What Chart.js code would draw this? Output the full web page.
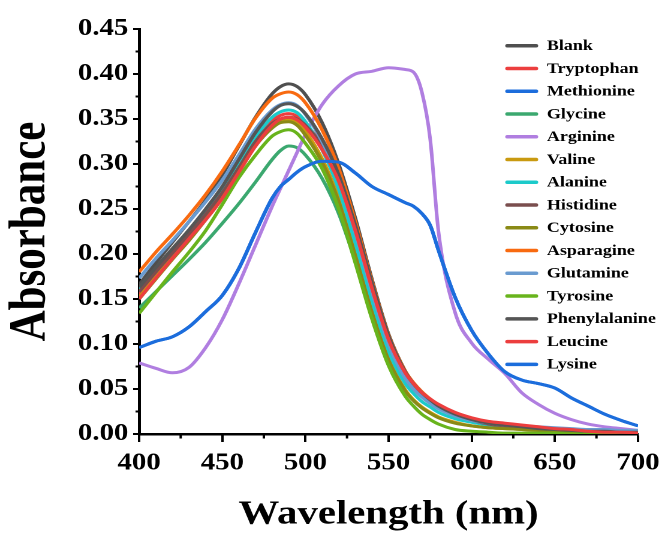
<!DOCTYPE html>
<html>
<head>
<meta charset="utf-8">
<script src="https://cdn.jsdelivr.net/npm/chart.js@4/dist/chart.umd.min.js"></script>
<style>
  html, body { margin: 0; padding: 0; background: #fff; overflow: hidden; }
  #wrap { width: 557px; height: 535px; transform: scaleX(1.1993); transform-origin: 0 0; }
</style>
</head>
<body>
<div id="wrap"><canvas id="c" width="557" height="535"></canvas></div>
<script>
// Wavelength grid (nm) shared by every spectrum
const wavelength = [400,410,420,430,440,450,460,470,480,485,490,495,500,510,520,530,540,550,560,565,570,575,580,590,600,610,620,630,640,650,660,670,680,690,700];

// Absorbance spectra
const blank         = [0.166,0.190,0.213,0.236,0.260,0.288,0.320,0.352,0.378,0.386,0.389,0.386,0.377,0.346,0.300,0.240,0.172,0.111,0.070,0.056,0.046,0.038,0.031,0.022,0.016,0.012,0.010,0.008,0.006,0.005,0.004,0.003,0.003,0.002,0.002];
const tryptophan    = [0.155,0.178,0.200,0.222,0.243,0.266,0.296,0.326,0.348,0.354,0.356,0.353,0.344,0.322,0.285,0.225,0.160,0.103,0.066,0.054,0.044,0.037,0.031,0.022,0.016,0.012,0.010,0.008,0.006,0.005,0.004,0.003,0.002,0.002,0.001];
const methionine    = [0.096,0.103,0.108,0.119,0.136,0.154,0.184,0.224,0.262,0.275,0.283,0.291,0.297,0.303,0.302,0.290,0.275,0.266,0.257,0.253,0.245,0.232,0.204,0.152,0.115,0.089,0.069,0.060,0.056,0.051,0.040,0.031,0.022,0.015,0.009];
const glycine       = [0.140,0.158,0.176,0.194,0.213,0.234,0.256,0.280,0.305,0.315,0.320,0.318,0.310,0.284,0.245,0.192,0.136,0.090,0.060,0.050,0.042,0.035,0.029,0.021,0.016,0.012,0.010,0.008,0.006,0.005,0.004,0.003,0.002,0.002,0.001];
const arginine      = [0.079,0.073,0.068,0.074,0.096,0.127,0.167,0.210,0.253,0.273,0.293,0.313,0.333,0.366,0.387,0.400,0.403,0.407,0.405,0.402,0.380,0.328,0.225,0.135,0.101,0.083,0.067,0.046,0.033,0.023,0.016,0.011,0.008,0.006,0.004];
const valine        = [0.152,0.174,0.196,0.217,0.240,0.264,0.293,0.322,0.342,0.348,0.350,0.346,0.336,0.306,0.262,0.202,0.138,0.084,0.049,0.038,0.030,0.024,0.019,0.013,0.009,0.007,0.006,0.005,0.004,0.003,0.003,0.002,0.002,0.002,0.002];
const alanine       = [0.160,0.182,0.204,0.225,0.247,0.271,0.300,0.330,0.352,0.358,0.360,0.357,0.347,0.316,0.272,0.212,0.148,0.092,0.056,0.045,0.036,0.030,0.024,0.017,0.013,0.010,0.008,0.007,0.006,0.005,0.004,0.004,0.003,0.003,0.003];
const histidine     = [0.158,0.180,0.201,0.222,0.244,0.268,0.296,0.325,0.345,0.350,0.352,0.350,0.343,0.320,0.287,0.232,0.167,0.107,0.068,0.055,0.045,0.037,0.030,0.021,0.015,0.011,0.009,0.007,0.006,0.005,0.004,0.003,0.003,0.002,0.002];
const cytosine      = [0.150,0.172,0.194,0.215,0.238,0.262,0.291,0.320,0.340,0.346,0.347,0.343,0.332,0.302,0.258,0.198,0.135,0.082,0.048,0.037,0.029,0.023,0.018,0.012,0.009,0.007,0.006,0.005,0.004,0.003,0.003,0.002,0.002,0.002,0.002];
const asparagine    = [0.180,0.202,0.222,0.243,0.266,0.292,0.321,0.351,0.373,0.378,0.380,0.377,0.368,0.338,0.295,0.236,0.170,0.110,0.070,0.057,0.047,0.039,0.032,0.023,0.017,0.013,0.011,0.009,0.007,0.006,0.005,0.004,0.003,0.003,0.002];
const glutamine     = [0.173,0.195,0.215,0.236,0.258,0.282,0.310,0.339,0.360,0.366,0.368,0.365,0.355,0.325,0.282,0.224,0.158,0.100,0.062,0.050,0.041,0.034,0.028,0.020,0.015,0.012,0.010,0.009,0.008,0.007,0.006,0.005,0.005,0.004,0.004];
const tyrosine      = [0.134,0.157,0.180,0.202,0.226,0.255,0.285,0.310,0.331,0.336,0.338,0.334,0.323,0.295,0.250,0.190,0.128,0.076,0.042,0.031,0.022,0.016,0.011,0.005,0.003,0.002,0.001,0.001,0.001,0.001,0.000,0.000,0.000,0.000,0.000];
const phenylalanine = [0.163,0.185,0.206,0.227,0.250,0.275,0.305,0.335,0.358,0.365,0.367,0.364,0.356,0.328,0.288,0.232,0.168,0.109,0.069,0.056,0.046,0.038,0.031,0.022,0.016,0.012,0.010,0.008,0.006,0.005,0.004,0.003,0.003,0.002,0.002];
const leucine       = [0.150,0.173,0.195,0.217,0.238,0.262,0.291,0.320,0.343,0.350,0.352,0.349,0.341,0.316,0.281,0.226,0.162,0.105,0.068,0.056,0.046,0.039,0.033,0.024,0.018,0.014,0.012,0.010,0.008,0.006,0.005,0.003,0.002,0.002,0.001];
const lysine        = [0.096,0.103,0.108,0.119,0.136,0.154,0.184,0.224,0.262,0.275,0.283,0.291,0.297,0.303,0.302,0.290,0.275,0.266,0.257,0.253,0.245,0.232,0.204,0.152,0.115,0.089,0.069,0.060,0.056,0.051,0.040,0.031,0.022,0.015,0.009];

const seriesNames  = ['Blank','Tryptophan','Methionine','Glycine','Arginine','Valine','Alanine','Histidine','Cytosine','Asparagine','Glutamine','Tyrosine','Phenylalanine','Leucine','Lysine'];
const seriesValues = [blank,tryptophan,methionine,glycine,arginine,valine,alanine,histidine,cytosine,asparagine,glutamine,tyrosine,phenylalanine,leucine,lysine];
const seriesColors = ['#4f4f4f','#ec3e3e','#1c6ddc','#3ba86f','#b07ee0','#c99a10','#1ccaca','#7a4e4e','#8a8a16','#f86a10','#6a9bd0','#68b41c','#555555','#ec3e3e','#1c6ddc'];

const xTicks = [400,450,500,550,600,650,700];
const xMinor = [425,475,525,575,625,675];
const yTicks = [0,0.05,0.10,0.15,0.20,0.25,0.30,0.35,0.40,0.45];
const yMinor = [0.025,0.075,0.125,0.175,0.225,0.275,0.325,0.375,0.425];

const SERIF = '"Liberation Serif", "Times New Roman", serif';

// Short outward minor ticks on both axes
const minorTicks = {
  id: 'minorTicks',
  afterDraw(chart) {
    const {ctx, scales: {x, y}, chartArea} = chart;
    ctx.save();
    ctx.strokeStyle = '#000';
    ctx.lineWidth = 2;
    ctx.beginPath();
    xMinor.forEach(v => {
      const px = x.getPixelForValue(v);
      ctx.moveTo(px, chartArea.bottom);
      ctx.lineTo(px, chartArea.bottom + 4.5);
    });
    yMinor.forEach(v => {
      const py = y.getPixelForValue(v);
      ctx.moveTo(chartArea.left, py);
      ctx.lineTo(chartArea.left - 3, py);
    });
    ctx.stroke();
    ctx.restore();
  }
};

// Legend column in the upper right of the plot
const spectraLegend = {
  id: 'spectraLegend',
  afterDraw(chart) {
    const {ctx} = chart;
    const x0 = 423, x1 = 447, tx = 456, top = 45.7, step = 22.76;
    ctx.save();
    ctx.font = 'bold 15px ' + SERIF;
    ctx.textBaseline = 'middle';
    ctx.textAlign = 'left';
    chart.data.datasets.forEach((ds, i) => {
      const yy = top + i * step;
      ctx.strokeStyle = ds.borderColor;
      ctx.lineWidth = 3.5;
      ctx.lineCap = 'round';
      ctx.beginPath();
      ctx.moveTo(x0, yy);
      ctx.lineTo(x1, yy);
      ctx.stroke();
      ctx.fillStyle = '#000';
      ctx.fillText(ds.label, tx, yy + 0.5);
    });
    ctx.restore();
  }
};

const datasets = seriesNames.map((name, i) => ({
  label: name,
  data: wavelength.map((w, k) => ({x: w, y: seriesValues[i][k]})),
  borderColor: seriesColors[i],
  backgroundColor: seriesColors[i],
  borderWidth: 3,
  pointRadius: 0,
  fill: false,
  cubicInterpolationMode: 'monotone',
  order: -i
}));

new Chart(document.getElementById('c'), {
  type: 'line',
  data: {datasets},
  options: {
    responsive: false,
    animation: false,
    devicePixelRatio: 2,
    layout: {padding: {top: 29, right: 20, bottom: 0, left: 0}},
    plugins: {legend: {display: false}, tooltip: {enabled: false}},
    scales: {
      x: {
        type: 'linear',
        min: 400,
        max: 700,
        afterBuildTicks: s => { s.ticks = xTicks.map(v => ({value: v})); },
        afterFit: s => { s.height = 101; },
        ticks: {color: '#000', padding: 7, maxRotation: 0, autoSkip: false,
                font: {family: SERIF, size: 24, weight: 'bold'}},
        grid: {display: true, drawOnChartArea: false, drawTicks: true, tickLength: 8, tickWidth: 2, tickColor: '#000'},
        border: {display: true, color: '#000', width: 2.5},
        title: {display: true, text: 'Wavelength (nm)', color: '#000', padding: {top: 0, bottom: 0},
                font: {family: SERIF, size: 34, weight: 'bold'}}
      },
      y: {
        type: 'linear',
        min: 0,
        max: 0.45,
        afterBuildTicks: s => { s.ticks = yTicks.map(v => ({value: v})); },
        afterFit: s => { s.width = 116; },
        ticks: {color: '#000', padding: 4, autoSkip: false, callback: v => Number(v).toFixed(2),
                font: {family: SERIF, size: 24, weight: 'bold'}},
        grid: {display: true, drawOnChartArea: false, drawTicks: true, tickLength: 5, tickWidth: 2, tickColor: '#000'},
        border: {display: true, color: '#000', width: 2.5},
        title: {display: true, text: 'Absorbance', color: '#000', padding: {top: 0, bottom: 0},
                font: {family: SERIF, size: 43, weight: 'bold'}}
      }
    }
  },
  plugins: [minorTicks, spectraLegend]
});
</script>
</body>
</html>
